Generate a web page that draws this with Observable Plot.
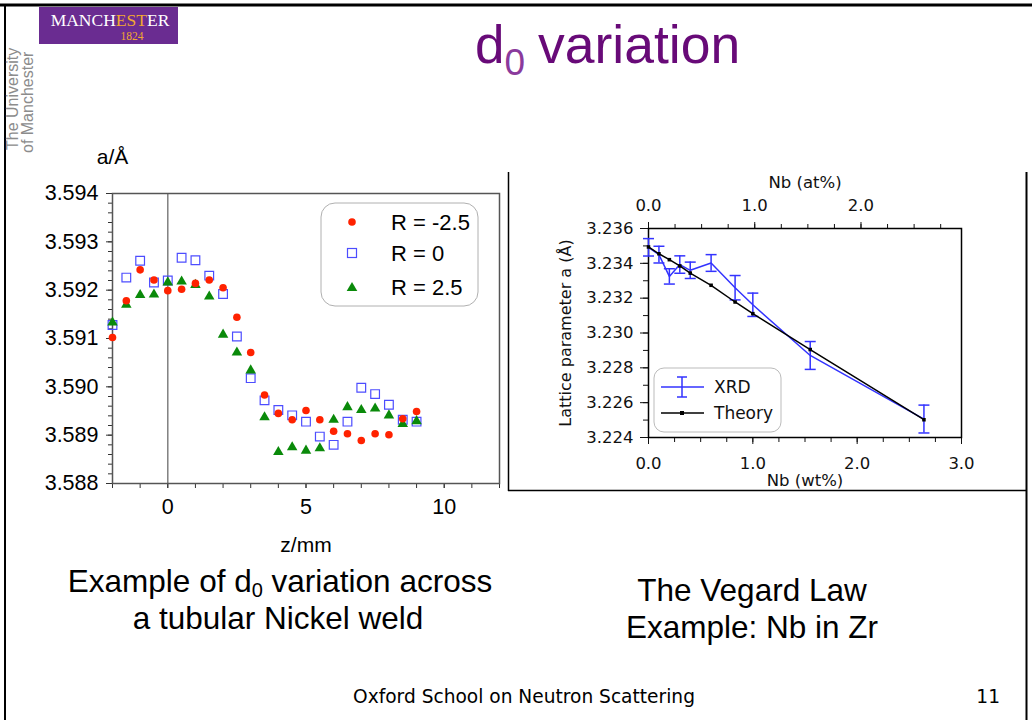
<!DOCTYPE html>
<html><head><meta charset="utf-8">
<script src="https://cdn.jsdelivr.net/npm/d3@7"></script>
<script src="https://cdn.jsdelivr.net/npm/@observablehq/plot@0.6"></script>
<style>
html,body{margin:0;padding:0;background:#fff;}
#slide{position:relative;width:1032px;height:720px;overflow:hidden;background:#fff;}
#left{position:absolute;left:0;top:140px;width:510px;height:420px;}
#right{position:absolute;left:510px;top:172px;width:516px;height:318px;}
#overlay{position:absolute;left:0;top:0;pointer-events:none;}
</style></head>
<body>
<div id="slide">
<div id="left"></div>
<div id="right"></div>
<svg id="overlay" width="1032" height="720" xmlns="http://www.w3.org/2000/svg">
  <!-- slide border -->
  <line x1="0" y1="5" x2="1032" y2="5" stroke="#000" stroke-width="3"/>
  <line x1="5" y1="4" x2="5" y2="720" stroke="#000" stroke-width="2"/>
  <!-- right chart box -->
  <line x1="508.5" y1="172" x2="508.5" y2="491" stroke="#000" stroke-width="1.5"/>
  <line x1="508" y1="490.5" x2="1027" y2="490.5" stroke="#000" stroke-width="1.5"/>
  <line x1="1026.5" y1="172" x2="1026.5" y2="720" stroke="#000" stroke-width="2"/>
  <!-- logo -->
  <rect x="39" y="7" width="139" height="37" fill="#6a2c91"/>
  <text x="110" y="26" text-anchor="middle" font-family="'Liberation Serif', 'Times New Roman', serif" font-size="17.5" fill="#fff">MANCH<tspan fill="#f0a830">EST</tspan>ER</text>
  <text x="132" y="39.5" text-anchor="middle" font-family="'Liberation Serif', 'Times New Roman', serif" font-size="11.5" fill="#f0a830">1824</text>
  <text x="18" y="150" transform="rotate(-90 18 150)" font-family="'Liberation Sans', Arial, sans-serif" font-size="16" fill="#8c8c8c">The University</text>
  <text x="33" y="153" transform="rotate(-90 33 153)" font-family="'Liberation Sans', Arial, sans-serif" font-size="16" fill="#8c8c8c">of Manchester</text>
  <!-- title -->
  <text x="475" y="63" font-family="'Liberation Sans', Arial, sans-serif" font-size="53" fill="#680a78">d<tspan font-size="37" dy="12" fill="#8a3a9c">0</tspan></text>
  <text x="538" y="63" font-family="'Liberation Sans', Arial, sans-serif" font-size="53.5" fill="#680a78">variation</text>
  <!-- left legend -->
  <rect x="321" y="203" width="157" height="103" rx="14" fill="#fff" stroke="#b0b0b0" stroke-width="1"/>
  <circle cx="352" cy="222" r="3.8" fill="#ff2200"/>
  <rect x="347.5" y="248.5" width="9" height="9" fill="none" stroke="#4d4dff" stroke-width="1.2"/>
  <polygon points="352,282 357.3,291 346.7,291" fill="#0a8a0a"/>
  <g font-family="'Liberation Sans', Arial, sans-serif" font-size="22" fill="#000">
    <text x="391" y="230">R = -2.5</text>
    <text x="391" y="261">R = 0</text>
    <text x="391" y="295">R = 2.5</text>
  </g>
  <!-- right legend -->
  <rect x="654" y="368" width="127" height="64" rx="10" fill="#fff" stroke="#bbbbbb" stroke-width="1"/>
  <g stroke="#3333ff" stroke-width="1.5" fill="none">
    <line x1="661" y1="387" x2="704" y2="387"/>
    <line x1="682" y1="377" x2="682" y2="397"/>
    <line x1="677" y1="377" x2="687" y2="377"/>
    <line x1="677" y1="397" x2="687" y2="397"/>
  </g>
  <line x1="661" y1="413" x2="704" y2="413" stroke="#000" stroke-width="1.5"/>
  <rect x="680" y="411" width="4" height="4" fill="#000"/>
  <g font-family="'DejaVu Sans', Verdana, sans-serif" font-size="17" fill="#111">
    <text x="714" y="393">XRD</text>
    <text x="714" y="419">Theory</text>
  </g>
  <!-- captions -->
  <g font-family="'Liberation Sans', Arial, sans-serif" font-size="31.5" fill="#000" text-anchor="middle">
    <text x="280" y="592">Example of d<tspan font-size="20" dy="5">0</tspan><tspan dy="-5"> variation across</tspan></text>
    <text x="278" y="629">a tubular Nickel weld</text>
    <text x="752" y="601">The Vegard Law</text>
    <text x="752" y="638">Example: Nb in Zr</text>
  </g>
  <g font-family="'DejaVu Sans', Verdana, sans-serif" font-size="18.6" fill="#000">
    <text x="524" y="703" text-anchor="middle">Oxford School on Neutron Scattering</text>
    <text x="1000" y="703" text-anchor="end">11</text>
  </g>
</svg>
</div>
<script>
// ---------- Left chart data: d0 variation across a tubular Nickel weld ----------
const zPositions = [-2,-1.5,-1,-0.5,0,0.5,1,1.5,2,2.5,3,3.5,4,4.5,5,5.5,6,6.5,7,7.5,8,8.5,9];
const aRminus25 = [3.59102,3.59178,3.59242,3.59221,3.59199,3.59202,3.59214,3.59221,3.59205,3.59144,3.59071,3.58983,3.58945,3.58932,3.58951,3.58932,3.58908,3.58903,3.58889,3.58903,3.58901,3.58934,3.58949];
const aR0       = [3.59128,3.59226,3.59261,3.59216,3.59220,3.59267,3.59262,3.59230,3.59192,3.59104,3.59018,3.58972,3.58952,3.58941,3.58928,3.58897,3.58880,3.58928,3.58998,3.58985,3.58963,3.58932,3.58928];
const aRplus25  = [3.59133,3.59170,3.59190,3.59191,3.59216,3.59218,3.59211,3.59187,3.59108,3.59071,3.59034,3.58937,3.58865,3.58875,3.58868,3.58873,3.58932,3.58958,3.58952,3.58955,3.58941,3.58923,3.58929];
const leftYTicks = [3.588,3.589,3.590,3.591,3.592,3.593,3.594];
const leftXTicks = [0,5,10];
const leftXDomain = [-2,12];
const leftYDomain = [3.588,3.594];

// ---------- Right chart data: Vegard law, Nb in Zr ----------
const nbWt    = [0,0.1,0.2,0.3,0.4,0.6,0.83,1.0,1.55,2.64];
const xrdA    = [3.23492,3.23450,3.23325,3.23393,3.23360,3.23402,3.23260,3.23162,3.22871,3.22506];
const xrdErr  = [0.00050,0.00048,0.00044,0.00050,0.00047,0.00048,0.00070,0.00067,0.00080,0.00080];
const theoryA = [3.23494,3.23455,3.23421,3.23385,3.23344,3.23274,3.23178,3.23111,3.22905,3.22502];
const rightYTicks = [3.224,3.226,3.228,3.230,3.232,3.234,3.236];
const wtTicks = [0,1,2,3];
const atTicks = [0,1,2];
const atPerWt = 0.982; // at% = wt% * 0.982 for Nb in Zr
const rightXDomain = [0,3];
const rightYDomain = [3.224,3.236];

// ---------- build tables ----------
const leftData = (vals) => zPositions.map((z,i) => ({z, a: vals[i]}));
const xrd = nbWt.map((w,i) => ({wt: w, a: xrdA[i], lo: xrdA[i]-xrdErr[i], hi: xrdA[i]+xrdErr[i]}));
const theory = nbWt.map((w,i) => ({wt: w, a: theoryA[i]}));

const leftYMinor = d3.range(0,31).map(i => leftYDomain[0] + i*0.0002);
const leftXMinor = d3.range(leftXDomain[0], leftXDomain[1]+1, 1);
const rightYMinor = d3.range(0,13).map(i => rightYDomain[0] + i*0.001);
const wtMinor = d3.range(0,13).map(i => i*0.25);
const atMinor = d3.range(0,12).map(i => i*0.25);

const capSymbol = { draw(ctx) { ctx.moveTo(-5.5,0); ctx.lineTo(5.5,0); } };

const left = Plot.plot({
  width: 510, height: 420,
  marginLeft: 112, marginRight: 11, marginTop: 53, marginBottom: 77,
  x: {domain: leftXDomain},
  y: {domain: leftYDomain},
  style: {fontFamily: "'Liberation Sans', Arial, sans-serif", fontSize: "21px", color: "#000", background: "transparent", overflow: "visible"},
  marks: [
    Plot.ruleX([0], {stroke: "#808080", strokeWidth: 1.5}),
    Plot.axisY(leftYMinor, {tickSize: 4, fill: "none", label: null, stroke: "#333"}),
    Plot.axisY(leftYTicks, {tickSize: 6, tickPadding: 8, tickFormat: d3.format(".3f"), fontSize: 21.5, label: null, stroke: "#333"}),
    Plot.axisX(leftXMinor, {tickSize: 5, fill: "none", label: null, stroke: "#333"}),
    Plot.axisX(leftXTicks, {tickSize: 5, tickPadding: 10, fontSize: 21.5, label: null, stroke: "#333"}),
    Plot.frame({stroke: "#555", strokeWidth: 1.5}),
    Plot.dot(leftData(aR0), {x: "z", y: "a", symbol: "square", r: 4.9, fill: "none", stroke: "#4d4dff", strokeWidth: 1.2}),
    Plot.dot(leftData(aRplus25), {x: "z", y: "a", symbol: "triangle", r: 3.9, fill: "#0a8a0a"}),
    Plot.dot(leftData(aRminus25), {x: "z", y: "a", symbol: "circle", r: 3.8, fill: "#ff2200"}),
    Plot.text(["a/Å"], {text: d => d, frameAnchor: "top-left", dy: -36, textAnchor: "middle", lineAnchor: "middle", fontSize: 21}),
    Plot.text(["z/mm"], {text: d => d, frameAnchor: "bottom", dy: 62, textAnchor: "middle", lineAnchor: "middle", fontSize: 21})
  ]
});
document.getElementById("left").appendChild(left);

const right = Plot.plot({
  width: 516, height: 318,
  marginLeft: 138, marginRight: 65, marginTop: 56, marginBottom: 53,
  x: {domain: rightXDomain},
  y: {domain: rightYDomain},
  style: {fontFamily: "'DejaVu Sans', Verdana, sans-serif", fontSize: "16px", color: "#111", background: "transparent", overflow: "visible"},
  marks: [
    Plot.axisY(rightYMinor, {tickSize: 5, fill: "none", label: null}),
    Plot.axisY(rightYTicks, {tickSize: 8, tickPadding: 7, tickFormat: d3.format(".3f"), fontSize: 16.5, label: null}),
    Plot.axisX(wtMinor, {tickSize: 5, fill: "none", label: null}),
    Plot.axisX(wtTicks, {tickSize: 7, tickPadding: 13, tickFormat: d3.format(".1f"), fontSize: 16.5, label: null}),
    Plot.axisX(atMinor.map(t => t / atPerWt), {anchor: "top", tickSize: 5, fill: "none", label: null}),
    Plot.axisX(atTicks.map(t => t / atPerWt), {anchor: "top", tickSize: 7, tickPadding: 11, tickFormat: d => d3.format(".1f")(d * atPerWt), fontSize: 16.5, label: null}),
    Plot.frame({stroke: "#000", strokeWidth: 1.5}),
    Plot.line(xrd, {x: "wt", y: "a", stroke: "#3333ff", strokeWidth: 1.5}),
    Plot.ruleX(xrd, {x: "wt", y1: "lo", y2: "hi", stroke: "#3333ff", strokeWidth: 1.5}),
    Plot.dot(xrd, {x: "wt", y: "lo", symbol: capSymbol, fill: "none", stroke: "#3333ff", strokeWidth: 1.5}),
    Plot.dot(xrd, {x: "wt", y: "hi", symbol: capSymbol, fill: "none", stroke: "#3333ff", strokeWidth: 1.5}),
    Plot.line(theory, {x: "wt", y: "a", stroke: "#000", strokeWidth: 1.5}),
    Plot.dot(theory, {x: "wt", y: "a", symbol: "square", r: 2, fill: "#000"}),
    Plot.text(["Nb (at%)"], {text: d => d, frameAnchor: "top", dy: -46, textAnchor: "middle", lineAnchor: "middle", fontSize: 16.5}),
    Plot.text(["Nb (wt%)"], {text: d => d, frameAnchor: "bottom", dy: 43, textAnchor: "middle", lineAnchor: "middle", fontSize: 16.5}),
    Plot.text(["Lattice parameter a (Å)"], {text: d => d, frameAnchor: "left", dx: -83, rotate: -90, textAnchor: "middle", lineAnchor: "middle", fontSize: 16})
  ]
});
document.getElementById("right").appendChild(right);
</script>
</body></html>
